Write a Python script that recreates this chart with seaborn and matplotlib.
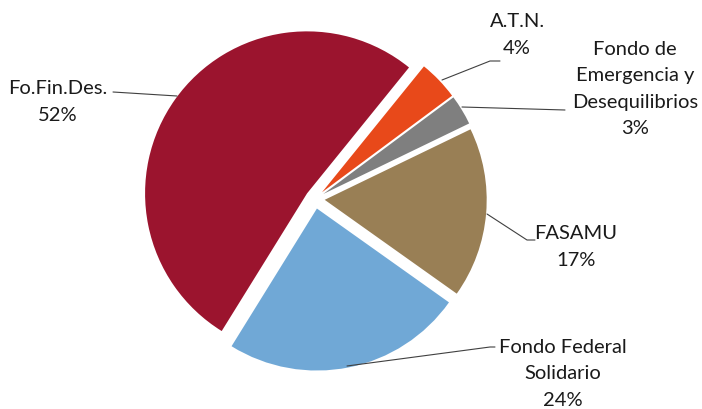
import matplotlib
matplotlib.use("Agg")
import matplotlib.pyplot as plt
import seaborn as sns

# data (clockwise from the upper right)
names = ["A.T.N.", "Fondo de\nEmergencia y\nDesequilibrios", "FASAMU",
         "Fondo Federal\nSolidario", "Fo.Fin.Des."]
values = [4, 3, 17, 24, 52]
colors = ["#E8491A", "#7F7F7F", "#997F55", "#70A8D6", "#9B142E"]

# label positions (pixel coords) and leader lines
label_xy = [(517, 35), (635, 89), (576, 247), (563, 374), (58, 102)]
leaders = [
    [(442, 81), (490, 62), (500, 62)],
    [(462, 108), (565, 111)],
    [(487, 215), (527, 241), (535, 241)],
    [(347, 367), (490, 348), (495, 348)],
    [(113, 93), (177, 97)],
]

sns.set_style("white")
plt.rcParams['font.family'] = ['Lato', 'DejaVu Sans']

W, H = 702, 410
cx, cy, R = 315, 200, 162

fig = plt.figure(figsize=(W / 100, H / 100), dpi=100)
ax = fig.add_axes([0, 0, 1, 1])


def px(x, y):
    return (x - cx) / R, (cy - y) / R


ax.pie(values, colors=colors, startangle=51, counterclock=False,
       explode=[0.06] * len(values), radius=1,
       wedgeprops=dict(linewidth=0))

for (name, v, (lx, ly), pts) in zip(names, values, label_xy, leaders):
    xs, ys = zip(*[px(*p) for p in pts])
    ax.plot(xs, ys, color="#404040", lw=0.8)
    tx, ty = px(lx, ly)
    ax.text(tx, ty, f"{name}\n{v}%", ha="center", va="center",
            fontsize=14.5, color="#1a1a1a", linespacing=1.68)

ax.set_xlim(-cx / R, (W - cx) / R)
ax.set_ylim(-(H - cy) / R, cy / R)
ax.set_aspect("auto")
ax.axis("off")

fig.savefig("out.png", dpi=100)
